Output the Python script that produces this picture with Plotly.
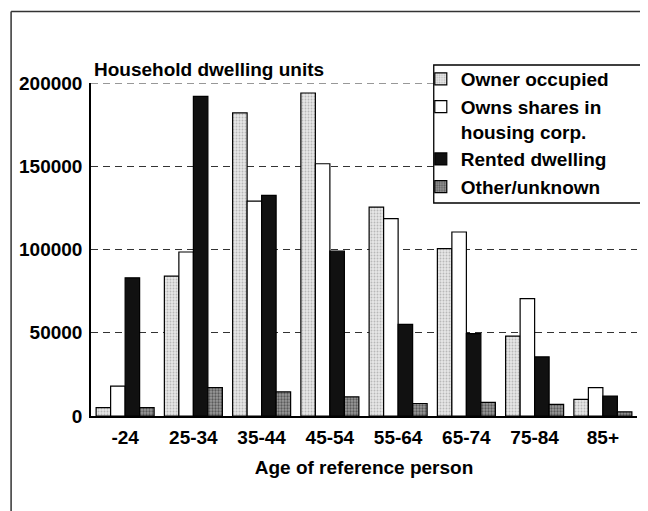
import plotly.graph_objects as go

categories = ["-24", "25-34", "35-44", "45-54", "55-64", "65-74", "75-84", "85+"]
owner_occupied = [5000, 84000, 182000, 194000, 125500, 100500, 48000, 10000]
owns_shares = [18000, 98500, 129000, 151500, 118500, 110500, 70500, 17000]
rented = [83000, 192000, 132500, 99000, 55000, 49500, 35500, 12000]
other_unknown = [5000, 17000, 14500, 11500, 7500, 8200, 7000, 2500]
y_ticks = [0, 50000, 100000, 150000, 200000]
y_tick_labels = ["0", "50000", "100000", "150000", "200000"]

# page body has an 8px default margin: the figure is sized to fit the window
OFF = 8
W, H = 648 - OFF, 511 - OFF
ML, MR, MT, MB = 89 - OFF, 11, 83 - OFF, 95
PW, PH = W - ML - MR, H - MT - MB


def px_x(sx):
    return (sx - OFF - ML) / PW


def px_y(sy):
    return (H - MB - (sy - OFF)) / PH


FONT = dict(family="Liberation Sans, Arial, sans-serif", size=19, color="black", weight="bold")
LINE = dict(color="black", width=1.2)
GRID = dict(color="#333333", width=1.2, dash="7px,5px")

fig = go.Figure()
fig.add_trace(go.Bar(
    name="Owner occupied", x=categories, y=owner_occupied,
    marker=dict(color="#e4e4e4", line=LINE,
                pattern=dict(shape=".", fgcolor="#8a8a8a", bgcolor="#e6e6e6", size=3, solidity=0.3)),
))
fig.add_trace(go.Bar(
    name="Owns shares in<br>housing corp.", x=categories, y=owns_shares,
    marker=dict(color="white", line=LINE),
))
fig.add_trace(go.Bar(
    name="Rented dwelling", x=categories, y=rented,
    marker=dict(color="#111111", line=LINE),
))
fig.add_trace(go.Bar(
    name="Other/unknown", x=categories, y=other_unknown,
    marker=dict(color="#777777", line=LINE,
                pattern=dict(shape=".", fgcolor="#1a1a1a", bgcolor="#9a9a9a", size=3, solidity=0.45)),
))

shapes = [
    # top gridline (at the edge of the range plotly omits it)
    dict(type="line", xref="paper", yref="y", x0=0, x1=1,
         y0=y_ticks[-1], y1=y_ticks[-1], line=GRID, layer="below"),
    # legend box
    dict(type="rect", xref="paper", yref="paper",
         x0=px_x(433), x1=px_x(643), y0=px_y(203), y1=px_y(65),
         fillcolor="white", line=dict(color="black", width=1.3), layer="above"),
    # outer frame (top and left)
    dict(type="line", xref="paper", yref="paper",
         x0=px_x(OFF + 0.8), x1=px_x(648), y0=px_y(11.5), y1=px_y(11.5),
         line=dict(color="#333333", width=1.5)),
    dict(type="line", xref="paper", yref="paper",
         x0=px_x(OFF + 0.8), x1=px_x(OFF + 0.8), y0=px_y(11.5), y1=px_y(511),
         line=dict(color="#333333", width=1.5)),
]

fig.update_layout(
    width=W, height=H,
    margin=dict(l=ML, r=MR, t=MT, b=MB, pad=0),
    paper_bgcolor="white", plot_bgcolor="white",
    barmode="group", bargap=0.15, bargroupgap=0,
    font=FONT,
    showlegend=True,
    legend=dict(
        x=px_x(420), y=px_y(60), xanchor="left", yanchor="top",
        bgcolor="rgba(0,0,0,0)", borderwidth=0,
        font=FONT, valign="top", itemwidth=30,
    ),
    shapes=shapes,
    annotations=[dict(
        text="Household dwelling units", xref="paper", yref="paper",
        x=px_x(90), y=px_y(69), xanchor="left", yanchor="middle",
        showarrow=False, font=FONT,
    )],
    xaxis=dict(
        type="category", showline=True, linecolor="black", linewidth=1.5,
        ticks="", showgrid=False, tickfont=FONT, ticklabelstandoff=3,
        title=dict(text="Age of reference person", font=FONT, standoff=14),
    ),
    yaxis=dict(
        range=[0, 200000], tickvals=y_ticks, ticktext=y_tick_labels,
        showline=True, linecolor="black", linewidth=1.5, ticks="",
        showgrid=True, gridcolor=GRID["color"], gridwidth=GRID["width"], griddash=GRID["dash"],
        zeroline=False, tickfont=FONT, ticklabelstandoff=3,
    ),
)

fig.write_html("out.html")
